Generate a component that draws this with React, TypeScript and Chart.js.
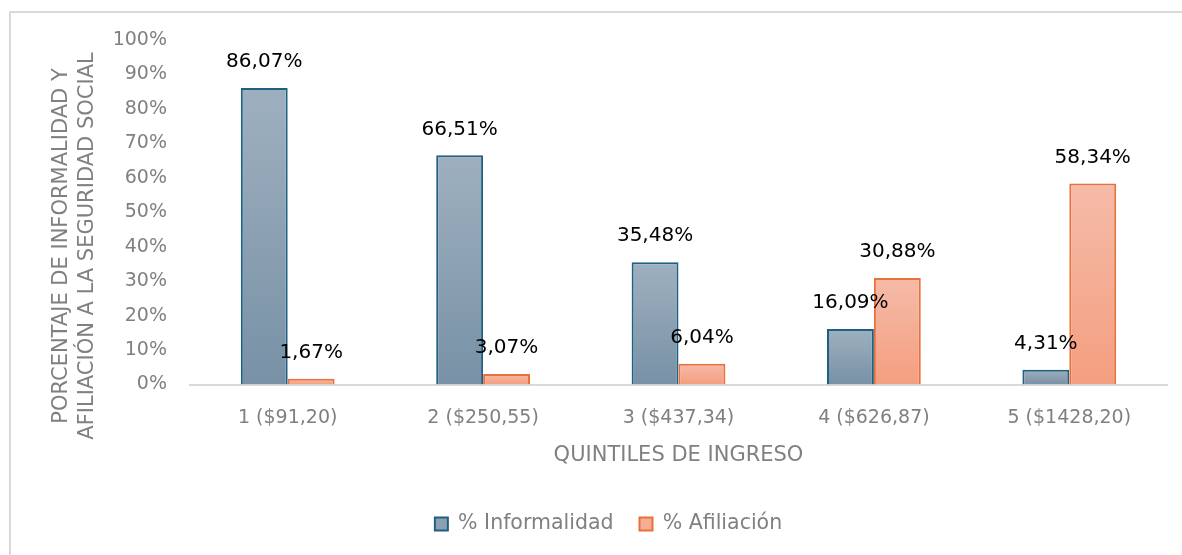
import React, { useEffect, useRef } from "react";
import { Chart, registerables } from "chart.js";

Chart.register(...registerables);

const categories = ["1 ($91,20)", "2 ($250,55)", "3 ($437,34)", "4 ($626,87)", "5 ($1428,20)"];
const informalidad = [86.07, 66.51, 35.48, 16.09, 4.31];
const afiliacion = [1.67, 3.07, 6.04, 30.88, 58.34];
const seriesNames = ["% Informalidad", "% Afiliación"];
const yTicks = [0, 10, 20, 30, 40, 50, 60, 70, 80, 90, 100];
const yTitle = ["PORCENTAJE DE INFORMALIDAD Y", "AFILIACIÓN A LA SEGURIDAD SOCIAL"];
const xTitle = "QUINTILES DE INGRESO";

const FONT = "'DejaVu Sans', sans-serif";
const GRAY = "#808080";

const fmt = (v: number) => v.toFixed(2).replace(".", ",") + "%";

function barGradient(top: string, bottom: string) {
  return (ctx: any) => {
    const chart = ctx.chart;
    const ys = chart.scales && chart.scales.y;
    if (!ys || ctx.raw == null || !chart.chartArea) return bottom;
    const y0 = ys.getPixelForValue(ctx.raw);
    const y1 = ys.getPixelForValue(0);
    if (!isFinite(y0) || !isFinite(y1) || y0 === y1) return bottom;
    const g = chart.ctx.createLinearGradient(0, y0, 0, y1);
    g.addColorStop(0, top);
    g.addColorStop(1, bottom);
    return g;
  };
}

const framePlugin = {
  id: "frame",
  beforeDraw(chart: any) {
    const ctx = chart.ctx;
    ctx.save();
    ctx.fillStyle = "#d9d9d9";
    ctx.fillRect(9, 11, chart.width - 9, 2);
    ctx.fillRect(9, 11, 2, chart.height - 11);
    ctx.restore();
  },
};

const labelsPlugin = {
  id: "valueLabels",
  afterDatasetsDraw(chart: any) {
    const ctx = chart.ctx;
    ctx.save();
    ctx.font = `20px ${FONT}`;
    ctx.fillStyle = "#000";
    ctx.textAlign = "center";
    ctx.textBaseline = "middle";
    chart.data.datasets.forEach((ds: any, di: number) => {
      const meta = chart.getDatasetMeta(di);
      meta.data.forEach((el: any, i: number) => {
        ctx.fillText(fmt(ds.data[i]), el.x, el.y - 26);
      });
    });
    ctx.restore();
  },
};

const yTitlePlugin = {
  id: "yTitle",
  afterDraw(chart: any) {
    const ctx = chart.ctx;
    ctx.save();
    ctx.font = `21px ${FONT}`;
    ctx.fillStyle = GRAY;
    ctx.textAlign = "center";
    ctx.textBaseline = "middle";
    yTitle.forEach((line, i) => {
      ctx.save();
      ctx.translate(62 + i * 26, 246);
      ctx.rotate(-Math.PI / 2);
      ctx.fillText(line, 0, 0);
      ctx.restore();
    });
    ctx.restore();
  },
};

export default function App() {
  const ref = useRef<HTMLCanvasElement | null>(null);
  useEffect(() => {
    if (!ref.current) return;
    const chart = new Chart(ref.current, {
      type: "bar",
      data: {
        labels: categories,
        datasets: [
          {
            label: seriesNames[0],
            data: informalidad,
            backgroundColor: barGradient("#9eb0bf", "#7891a6"),
            borderColor: "#1f6082",
            borderWidth: 2,
            borderSkipped: "bottom",
            barPercentage: 1,
            categoryPercentage: 0.48,
          },
          {
            label: seriesNames[1],
            data: afiliacion,
            backgroundColor: barGradient("#f5bba8", "#f49e80"),
            borderColor: "#e9703a",
            borderWidth: 2,
            borderSkipped: "bottom",
            barPercentage: 1,
            categoryPercentage: 0.48,
          },
        ],
      },
      options: {
        responsive: false,
        animation: false,
        layout: { padding: { left: 50, right: 15, top: 40, bottom: 10.75 } },
        scales: {
          x: {
            grid: { display: false, drawTicks: false },
            border: { display: true, color: "#d9d9d9", width: 2 },
            ticks: { color: GRAY, font: { family: FONT, size: 19 }, padding: 22 },
            title: {
              display: true,
              text: xTitle,
              color: GRAY,
              font: { family: FONT, size: 21 },
              padding: { top: 0, bottom: 20 },
            },
            afterFit: (s: any) => {
              s.height = 103.25;
            },
          },
          y: {
            min: 0,
            max: 100,
            afterBuildTicks: (s: any) => {
              s.ticks = yTicks.map((v) => ({ value: v }));
            },
            grid: { display: false, drawTicks: false },
            border: { display: false },
            ticks: {
              color: GRAY,
              font: { family: FONT, size: 19 },
              padding: 23,
              callback: (v: any) => v + "%",
            },
            afterFit: (s: any) => {
              s.width = 140;
            },
          },
        },
        plugins: {
          legend: {
            position: "bottom",
            labels: {
              color: GRAY,
              font: { family: FONT, size: 20.5 },
              boxWidth: 13,
              boxHeight: 13,
              padding: 26,
              generateLabels: () =>
                seriesNames.map((n, i) => ({
                  text: n,
                  fillStyle: i === 0 ? "#8ba1b3" : "#f5ad94",
                  strokeStyle: i === 0 ? "#1f6082" : "#e9703a",
                  lineWidth: 2,
                  datasetIndex: i,
                  hidden: false,
                  fontColor: GRAY,
                })),
            },
          },
          tooltip: { enabled: false },
        },
      },
      plugins: [framePlugin, labelsPlugin, yTitlePlugin],
    });
    return () => chart.destroy();
  }, []);

  return (
    <div style={{ position: "fixed", left: 0, top: 0, width: 1182, height: 555, overflow: "hidden", background: "#fff" }}>
      <canvas ref={ref} width={1182} height={555} style={{ position: "absolute", left: 0, top: 0, display: "block" }} />
    </div>
  );
}
